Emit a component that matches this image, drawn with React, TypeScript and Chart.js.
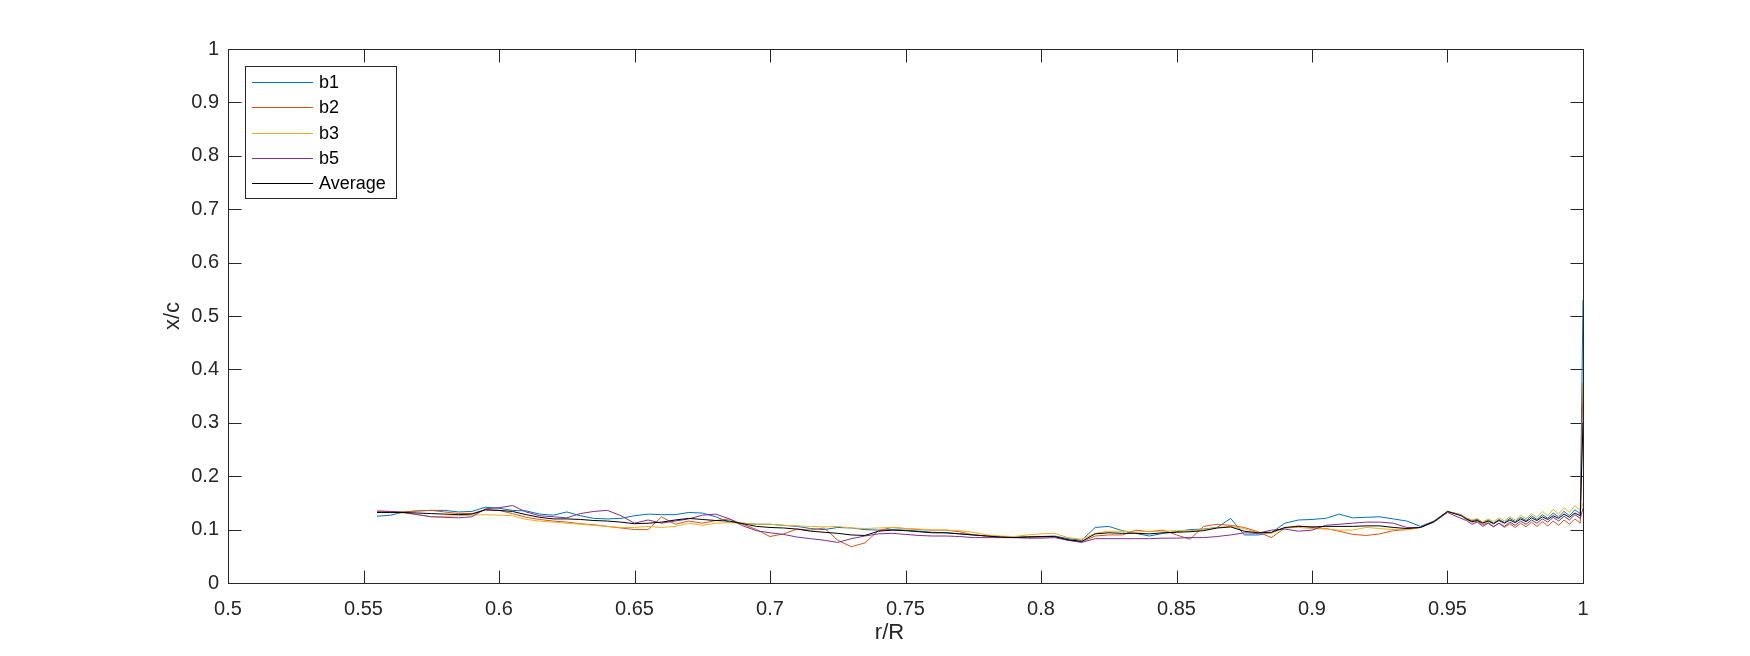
import React, { useEffect, useRef } from 'react';
import { Chart, registerables } from 'chart.js';
Chart.register(...registerables);

// r/R positions
const rR = [
  0.555, 0.56, 0.565, 0.57, 0.575, 0.58, 0.585, 0.59, 0.595, 0.6,
  0.605, 0.61, 0.615, 0.62, 0.625, 0.63, 0.635, 0.64, 0.645, 0.65,
  0.655, 0.66, 0.665, 0.67, 0.675, 0.68, 0.685, 0.69, 0.695, 0.7,
  0.705, 0.71, 0.715, 0.72, 0.725, 0.73, 0.735, 0.74, 0.745, 0.75,
  0.755, 0.76, 0.765, 0.77, 0.775, 0.78, 0.785, 0.79, 0.795, 0.8,
  0.805, 0.81, 0.815, 0.82, 0.825, 0.83, 0.835, 0.84, 0.845, 0.85,
  0.855, 0.86, 0.865, 0.87, 0.875, 0.88, 0.885, 0.89, 0.895, 0.9,
  0.905, 0.91, 0.915, 0.92, 0.925, 0.93, 0.935, 0.94, 0.945, 0.95,
  0.955,
  0.957, 0.959, 0.961, 0.963, 0.965, 0.967, 0.969, 0.971, 0.973, 0.975,
  0.977, 0.979, 0.981, 0.983, 0.985, 0.987, 0.989, 0.991, 0.993, 0.995,
  0.997, 0.999,
  1.0,
];

const b1 = [
  0.125, 0.127, 0.133, 0.135, 0.136, 0.136, 0.133, 0.134, 0.142, 0.140,
  0.136, 0.135, 0.129, 0.127, 0.133, 0.126, 0.121, 0.120, 0.121, 0.126,
  0.129, 0.128, 0.128, 0.132, 0.131, 0.124, 0.114, 0.112, 0.110, 0.110,
  0.108, 0.106, 0.102, 0.100, 0.104, 0.103, 0.100, 0.099, 0.100, 0.099,
  0.097, 0.095, 0.094, 0.092, 0.090, 0.088, 0.087, 0.086, 0.087, 0.087,
  0.088, 0.083, 0.080, 0.104, 0.106, 0.098, 0.093, 0.088, 0.093, 0.096,
  0.100, 0.101, 0.104, 0.121, 0.090, 0.090, 0.094, 0.112, 0.118, 0.119,
  0.121, 0.129, 0.122, 0.123, 0.124, 0.120, 0.116, 0.106, 0.116, 0.134,
  0.128,
  0.121, 0.117, 0.119, 0.113, 0.118, 0.112, 0.119, 0.113, 0.121, 0.115,
  0.123, 0.117, 0.126, 0.119, 0.128, 0.121, 0.131, 0.124, 0.134, 0.126,
  0.137, 0.130,
  0.53,
];

const b2 = [
  0.134, 0.134, 0.133, 0.135, 0.136, 0.133, 0.130, 0.130, 0.137, 0.136,
  0.130, 0.123, 0.119, 0.116, 0.114, 0.111, 0.109, 0.106, 0.103, 0.100,
  0.100, 0.124, 0.110, 0.116, 0.112, 0.117, 0.120, 0.110, 0.100, 0.087,
  0.092, 0.101, 0.099, 0.103, 0.080, 0.068, 0.075, 0.098, 0.104, 0.102,
  0.100, 0.099, 0.099, 0.096, 0.090, 0.088, 0.087, 0.085, 0.086, 0.086,
  0.087, 0.080, 0.077, 0.088, 0.090, 0.090, 0.099, 0.096, 0.099, 0.090,
  0.082, 0.106, 0.110, 0.108, 0.104, 0.096, 0.085, 0.103, 0.107, 0.104,
  0.102, 0.097, 0.091, 0.089, 0.092, 0.098, 0.100, 0.104, 0.115, 0.134,
  0.127,
  0.119, 0.114, 0.116, 0.109, 0.113, 0.106, 0.112, 0.104, 0.111, 0.104,
  0.112, 0.105, 0.114, 0.106, 0.115, 0.107, 0.116, 0.108, 0.118, 0.110,
  0.120, 0.112,
  0.375,
];

const b3 = [
  0.133, 0.132, 0.131, 0.128, 0.124, 0.125, 0.126, 0.127, 0.128, 0.127,
  0.126, 0.119, 0.116, 0.114, 0.112, 0.110, 0.108, 0.106, 0.104, 0.104,
  0.106, 0.104, 0.106, 0.112, 0.108, 0.112, 0.113, 0.112, 0.110, 0.110,
  0.108, 0.107, 0.106, 0.105, 0.106, 0.103, 0.102, 0.103, 0.104, 0.102,
  0.101, 0.099, 0.099, 0.098, 0.095, 0.090, 0.088, 0.087, 0.090, 0.092,
  0.093, 0.085, 0.082, 0.093, 0.097, 0.097, 0.095, 0.097, 0.097, 0.098,
  0.098, 0.100, 0.104, 0.106, 0.102, 0.094, 0.093, 0.103, 0.104, 0.102,
  0.101, 0.099, 0.099, 0.104, 0.102, 0.100, 0.100, 0.104, 0.115, 0.134,
  0.127,
  0.122, 0.118, 0.121, 0.114, 0.120, 0.115, 0.122, 0.116, 0.124, 0.118,
  0.127, 0.120, 0.130, 0.123, 0.134, 0.126, 0.138, 0.129, 0.141, 0.132,
  0.145, 0.136,
  0.15,
];

const b5 = [
  0.135, 0.134, 0.132, 0.128, 0.124, 0.123, 0.122, 0.124, 0.139, 0.141,
  0.145, 0.133, 0.126, 0.124, 0.122, 0.130, 0.134, 0.136, 0.126, 0.112,
  0.118, 0.112, 0.116, 0.120, 0.127, 0.129, 0.120, 0.107, 0.098, 0.094,
  0.091, 0.086, 0.083, 0.080, 0.076, 0.083, 0.088, 0.092, 0.093, 0.091,
  0.089, 0.088, 0.088, 0.087, 0.085, 0.085, 0.085, 0.085, 0.084, 0.084,
  0.085, 0.080, 0.076, 0.083, 0.083, 0.083, 0.083, 0.083, 0.084, 0.084,
  0.085, 0.085, 0.087, 0.090, 0.094, 0.093, 0.099, 0.101, 0.097, 0.099,
  0.108, 0.110, 0.112, 0.114, 0.114, 0.112, 0.104, 0.104, 0.114, 0.132,
  0.121,
  0.117, 0.110, 0.114, 0.106, 0.112, 0.105, 0.112, 0.106, 0.114, 0.108,
  0.116, 0.110, 0.118, 0.112, 0.120, 0.114, 0.123, 0.116, 0.125, 0.118,
  0.128, 0.121,
  0.14,
];

const avg = [
  0.132, 0.132, 0.132, 0.131, 0.130, 0.129, 0.128, 0.129, 0.137, 0.136,
  0.134, 0.128, 0.123, 0.120, 0.120, 0.119, 0.117, 0.116, 0.114, 0.111,
  0.112, 0.114, 0.118, 0.121, 0.119, 0.117, 0.116, 0.111, 0.106, 0.104,
  0.103, 0.101, 0.097, 0.095, 0.093, 0.090, 0.089, 0.097, 0.099, 0.098,
  0.096, 0.094, 0.094, 0.092, 0.090, 0.088, 0.086, 0.085, 0.086, 0.087,
  0.087, 0.081, 0.078, 0.092, 0.094, 0.093, 0.093, 0.092, 0.094, 0.095,
  0.096, 0.098, 0.103, 0.105, 0.097, 0.094, 0.095, 0.104, 0.106, 0.105,
  0.106, 0.106, 0.106, 0.107, 0.107, 0.104, 0.102, 0.104, 0.115, 0.134,
  0.126,
  0.120, 0.115, 0.117, 0.112, 0.116, 0.111, 0.117, 0.112, 0.118, 0.113,
  0.120, 0.115, 0.122, 0.117, 0.124, 0.119, 0.126, 0.121, 0.129, 0.123,
  0.131, 0.126,
  0.30,
];

const seriesNames = ['b1', 'b2', 'b3', 'b5', 'Average'];
const seriesColors = ['#0072BD', '#D95319', '#EDB120', '#7E2F8E', '#000000'];

const xTicks = [0.5, 0.55, 0.6, 0.65, 0.7, 0.75, 0.8, 0.85, 0.9, 0.95, 1];
const xTickLabels = ['0.5', '0.55', '0.6', '0.65', '0.7', '0.75', '0.8', '0.85', '0.9', '0.95', '1'];
const yTicks = [0, 0.1, 0.2, 0.3, 0.4, 0.5, 0.6, 0.7, 0.8, 0.9, 1];
const yTickLabels = ['0', '0.1', '0.2', '0.3', '0.4', '0.5', '0.6', '0.7', '0.8', '0.9', '1'];

const xTitle = 'r/R';
const yTitle = 'x/c';

const FONT = '"Liberation Sans", Arial, Helvetica, sans-serif';
const AXIS = '#262626';

const boxPlugin = {
  id: 'matlabBox',
  beforeDatasetsDraw(chart: any) {
    const { ctx, chartArea } = chart;
    const xs = chart.scales.x;
    const ys = chart.scales.y;
    const l = Math.round(chartArea.left) + 0.5;
    const r = Math.round(chartArea.right) + 0.5;
    const t = Math.round(chartArea.top) + 0.5;
    const b = Math.round(chartArea.bottom) + 0.5;
    ctx.save();
    ctx.strokeStyle = AXIS;
    ctx.lineWidth = 1;
    ctx.strokeRect(l, t, r - l, b - t);
    const tl = 13;
    ctx.beginPath();
    xTicks.forEach((v) => {
      const px = Math.round(xs.getPixelForValue(v)) + 0.5;
      ctx.moveTo(px, b);
      ctx.lineTo(px, b - tl);
      ctx.moveTo(px, t);
      ctx.lineTo(px, t + tl);
    });
    yTicks.forEach((v) => {
      const py = Math.round(ys.getPixelForValue(v)) + 0.5;
      ctx.moveTo(l, py);
      ctx.lineTo(l + tl, py);
      ctx.moveTo(r, py);
      ctx.lineTo(r - tl, py);
    });
    ctx.stroke();
    // axis titles
    ctx.fillStyle = AXIS;
    ctx.font = `22px ${FONT}`;
    ctx.textAlign = 'center';
    ctx.textBaseline = 'middle';
    ctx.fillText(xTitle, (chartArea.left + chartArea.right) / 2 - 16, 633);
    ctx.save();
    ctx.translate(173, (chartArea.top + chartArea.bottom) / 2);
    ctx.rotate(-Math.PI / 2);
    ctx.fillText(yTitle, 0, 0);
    ctx.restore();
    ctx.restore();
  },
  afterDatasetsDraw(chart: any) {
    const { ctx } = chart;
    ctx.save();
    const bx = 245.5, by = 66.5, bw = 151, bh = 132;
    ctx.fillStyle = '#ffffff';
    ctx.fillRect(bx, by, bw, bh);
    ctx.strokeStyle = AXIS;
    ctx.lineWidth = 1;
    ctx.strokeRect(bx, by, bw, bh);
    ctx.font = `18px ${FONT}`;
    ctx.textAlign = 'left';
    ctx.textBaseline = 'middle';
    seriesNames.forEach((name, i) => {
      const cy = 82 + i * 25.3;
      ctx.strokeStyle = seriesColors[i];
      ctx.beginPath();
      ctx.moveTo(252, Math.round(cy) + 0.5);
      ctx.lineTo(313, Math.round(cy) + 0.5);
      ctx.stroke();
      ctx.fillStyle = '#000000';
      ctx.fillText(name, 319, cy + 1);
    });
    ctx.restore();
  },
};

export default function App() {
  const ref = useRef<HTMLCanvasElement | null>(null);
  useEffect(() => {
    if (!ref.current) return;
    const all = [b1, b2, b3, b5, avg];
    const datasets = all.map((arr, i) => ({
      label: seriesNames[i],
      data: rR.map((x, k) => ({ x, y: arr[k] })),
      borderColor: seriesColors[i],
      backgroundColor: seriesColors[i],
      borderWidth: 1,
      pointRadius: 0,
      tension: 0,
      fill: false,
      order: 5 - i,
    }));
    const chart = new Chart(ref.current, {
      type: 'line',
      data: { datasets },
      options: {
        animation: false,
        responsive: false,
        devicePixelRatio: 1,
        events: [],
        layout: { padding: { left: 0, right: 167, top: 49, bottom: 0 } },
        plugins: { legend: { display: false }, tooltip: { enabled: false } },
        scales: {
          x: {
            type: 'linear',
            min: 0.5,
            max: 1,
            grid: { display: false, drawTicks: false },
            border: { display: false },
            afterBuildTicks: (s: any) => {
              s.ticks = xTicks.map((v) => ({ value: v }));
            },
            afterFit: (s: any) => {
              s.height = 73;
            },
            ticks: {
              autoSkip: false,
              maxRotation: 0,
              padding: 14,
              color: AXIS,
              font: { family: FONT, size: 20 },
              callback: (v: any) => {
                const idx = xTicks.findIndex((t) => Math.abs(t - v) < 1e-6);
                return idx >= 0 ? xTickLabels[idx] : '';
              },
            },
          },
          y: {
            type: 'linear',
            min: 0,
            max: 1,
            grid: { display: false, drawTicks: false },
            border: { display: false },
            afterBuildTicks: (s: any) => {
              s.ticks = yTicks.map((v) => ({ value: v }));
            },
            afterFit: (s: any) => {
              s.width = 228;
            },
            ticks: {
              autoSkip: false,
              padding: 9,
              color: AXIS,
              font: { family: FONT, size: 20 },
              callback: (v: any) => {
                const idx = yTicks.findIndex((t) => Math.abs(t - v) < 1e-6);
                return idx >= 0 ? yTickLabels[idx] : '';
              },
            },
          },
        },
      },
      plugins: [boxPlugin],
    });
    return () => chart.destroy();
  }, []);
  return (
    <div style={{ position: 'fixed', left: 0, top: 0, width: 1750, height: 656, background: '#ffffff' }}>
      <canvas ref={ref} width={1750} height={656} style={{ width: 1750, height: 656, display: 'block' }} />
    </div>
  );
}
